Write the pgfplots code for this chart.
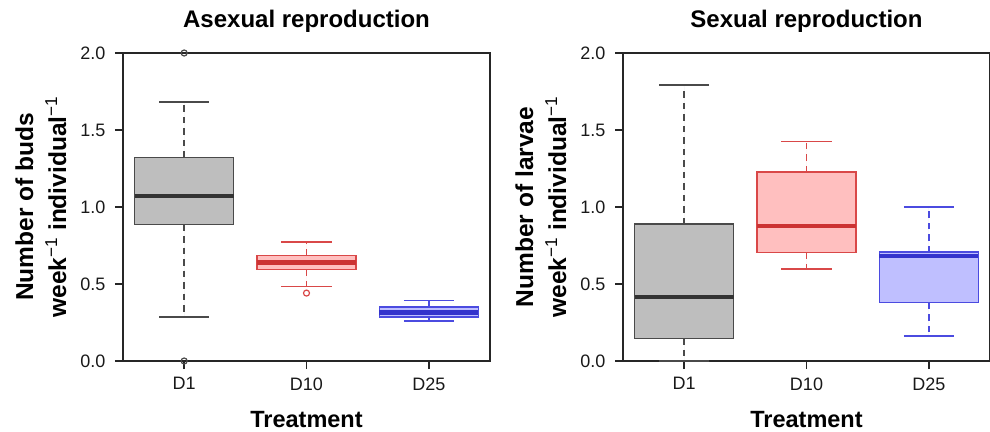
\documentclass[border=0pt]{standalone}
\usepackage{fontspec}
\setmainfont{Liberation Sans}
\usepackage{pgfplots}
\pgfplotsset{compat=1.18}
\usepgfplotslibrary{statistics}

\definecolor{greyfill}{HTML}{BEBEBE}
\definecolor{greyline}{HTML}{4A4A4A}
\definecolor{greymed}{HTML}{333333}
\definecolor{redfill}{HTML}{FFBFBF}
\definecolor{redline}{HTML}{D94848}
\definecolor{redmed}{HTML}{CC3333}
\definecolor{bluefill}{HTML}{BFBFFF}
\definecolor{blueline}{HTML}{4B4BE0}
\definecolor{bluemed}{HTML}{3333CC}

\pgfplotsset{
  boxplot/draw/lower whisker/.code={
    \draw[/pgfplots/boxplot/every whisker/.try, dash pattern=on 6.5pt off 5pt]
      (boxplot box cs:\pgfplotsboxplotvalue{lower quartile},0.5) --
      (boxplot box cs:\pgfplotsboxplotvalue{lower whisker},0.5);
    \draw[/pgfplots/boxplot/every whisker/.try]
      (boxplot whisker cs:\pgfplotsboxplotvalue{lower whisker},0) --
      (boxplot whisker cs:\pgfplotsboxplotvalue{lower whisker},1);
  },
  boxplot/draw/upper whisker/.code={
    \draw[/pgfplots/boxplot/every whisker/.try, dash pattern=on 6.5pt off 5pt]
      (boxplot box cs:\pgfplotsboxplotvalue{upper quartile},0.5) --
      (boxplot box cs:\pgfplotsboxplotvalue{upper whisker},0.5);
    \draw[/pgfplots/boxplot/every whisker/.try]
      (boxplot whisker cs:\pgfplotsboxplotvalue{upper whisker},0) --
      (boxplot whisker cs:\pgfplotsboxplotvalue{upper whisker},1);
  },
  panel/.style={
    scale only axis, width=367pt, height=308pt,
    anchor=south west,
    xmin=0.5, xmax=3.5, ymin=0, ymax=2,
    xtick={1,2,3}, xticklabels={D1,D10,D25},
    ytick={0,0.5,1,1.5,2}, yticklabels={0.0,0.5,1.0,1.5,2.0},
    xtick pos=lower, ytick pos=left,
    tick align=outside, major tick length=8pt,
    axis line style={line width=1.6pt, black!85},
    every tick/.style={line width=1.4pt, black!85},
    ticklabel style={font=\fontsize{18}{18}\selectfont, black!90},
    xticklabel style={yshift=-5pt},
    yticklabel style={xshift=-6pt},
    clip=false,
    title style={at={(axis description cs:0.5,1)}, anchor=base, yshift=19pt,
      font=\bfseries\fontsize{24}{28}\selectfont},
    xlabel={Treatment},
    xlabel style={at={(axis description cs:0.5,0)}, anchor=base, yshift=-66pt,
      font=\bfseries\fontsize{23.5}{28}\selectfont},
    ylabel style={at={(axis description cs:-0.224,0.5)}, anchor=center, align=center,
      font=\bfseries\fontsize{24.5}{33}\selectfont},
    boxplot/draw direction=y,
    boxplot/box extend=0.81,
    boxplot/whisker extend=0.41,
  },
  bx/.style n args={3}{
    solid, line width=1.4pt, draw=#1, fill=#2,
    mark=o, mark size=3pt, mark options={solid, draw=#1, fill=none, line width=1.2pt},
    boxplot/every median/.style={draw=#3, line width=4.5pt},
  },
}

\begin{document}
\begin{tikzpicture}[x=1pt,y=1pt]
\useasboundingbox (0,0) rectangle (990,431);

\begin{axis}[panel, at={(123pt,70pt)},
  title={Asexual reproduction},
  ylabel={Number of buds\\week{\mdseries\textsuperscript{−1}} individual{\mdseries\textsuperscript{−1}}}]
\addplot[bx={greyline}{greyfill}{greymed},
  boxplot prepared={draw position=1, lower whisker=0.285, lower quartile=0.886,
    median=1.072, upper quartile=1.321, upper whisker=1.682}]
  table[row sep=\\, y index=0] {0\\ 2\\};
\addplot[bx={redline}{redfill}{redmed},
  boxplot prepared={draw position=2, lower whisker=0.484, lower quartile=0.595,
    median=0.638, upper quartile=0.685, upper whisker=0.772}]
  table[row sep=\\, y index=0] {0.441\\};
\addplot[bx={blueline}{bluefill}{bluemed},
  boxplot prepared={draw position=3, lower whisker=0.259, lower quartile=0.285,
    median=0.316, upper quartile=0.350, upper whisker=0.394}]
  coordinates {};
\end{axis}

\begin{axis}[panel, at={(623pt,70pt)},
  title={Sexual reproduction},
  ylabel={Number of larvae\\week{\mdseries\textsuperscript{−1}} individual{\mdseries\textsuperscript{−1}}}]
\addplot[bx={greyline}{greyfill}{greymed},
  boxplot prepared={draw position=1, lower whisker=0, lower quartile=0.147,
    median=0.415, upper quartile=0.889, upper whisker=1.792}]
  coordinates {};
\addplot[bx={redline}{redfill}{redmed},
  boxplot prepared={draw position=2, lower whisker=0.597, lower quartile=0.703,
    median=0.876, upper quartile=1.226, upper whisker=1.427}]
  coordinates {};
\addplot[bx={blueline}{bluefill}{bluemed},
  boxplot prepared={draw position=3, lower whisker=0.162, lower quartile=0.378,
    median=0.683, upper quartile=0.707, upper whisker=0.999}]
  coordinates {};
\end{axis}
\end{tikzpicture}
\end{document}
